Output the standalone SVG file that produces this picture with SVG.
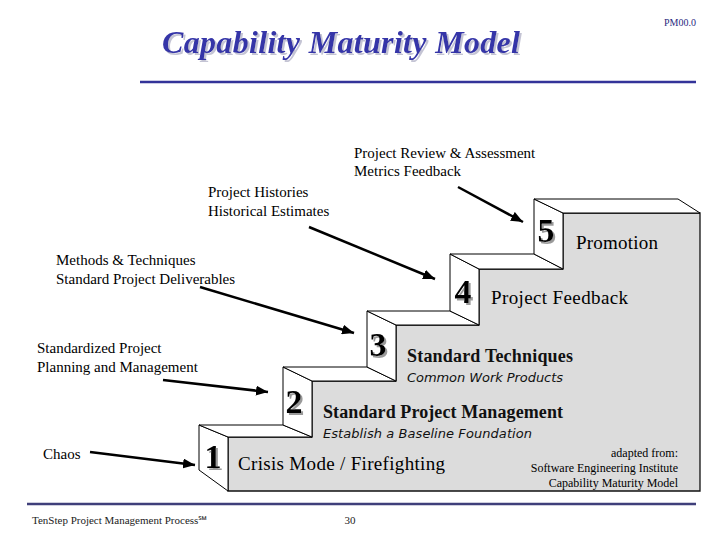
<svg xmlns="http://www.w3.org/2000/svg" width="720" height="540" viewBox="0 0 720 540">
<style>
.lbl{font-family:"Liberation Serif","Times New Roman",serif;font-size:15px;fill:#000}
.big{font-family:"Liberation Serif","Times New Roman",serif;font-size:19px;fill:#000}
.bigb{font-family:"Liberation Serif","Times New Roman",serif;font-size:18px;font-weight:bold;fill:#111}
.sub{font-family:"DejaVu Sans","Verdana",sans-serif;font-size:13px;font-style:italic;fill:#111}
.src{font-family:"Liberation Serif","Times New Roman",serif;font-size:12px;fill:#000;text-anchor:end}
.num{font-family:"Liberation Serif","Times New Roman",serif;font-size:34px;font-weight:bold;text-anchor:middle;fill:#000;filter:url(#numsh)}
.face{fill:#fff;stroke:#000;stroke-width:1;stroke-linejoin:round}
.front{fill:#dcdcdc;stroke:#111;stroke-width:1.3;stroke-linejoin:miter}
.arrow{fill:none;stroke:#000;stroke-width:2.5;marker-end:url(#ah)}
.foot{font-family:"Liberation Serif","Times New Roman",serif;font-size:11px;fill:#222}
.title{font-family:"Liberation Serif","Times New Roman",serif;font-size:32px;font-weight:bold;font-style:italic;fill:#3535a8;filter:url(#titlesh)}
</style>
<defs>
<marker id="ah" markerUnits="userSpaceOnUse" markerWidth="14" markerHeight="10" refX="12" refY="5" orient="auto">
<path d="M0,0 L12,5 L0,10 Z" fill="#000"/>
</marker>
<filter id="numsh" x="-30%" y="-30%" width="170%" height="170%">
<feOffset in="SourceAlpha" dx="2" dy="2" result="o"/>
<feFlood flood-color="#9a9a9a"/>
<feComposite in2="o" operator="in" result="s"/>
<feMerge><feMergeNode in="s"/><feMergeNode in="SourceGraphic"/></feMerge>
</filter>
<filter id="titlesh" x="-5%" y="-20%" width="115%" height="150%">
<feOffset in="SourceAlpha" dx="2" dy="2" result="o"/>
<feFlood flood-color="#c4c4d4"/>
<feComposite in2="o" operator="in" result="s"/>
<feMerge><feMergeNode in="s"/><feMergeNode in="SourceGraphic"/></feMerge>
</filter>
</defs>
<rect width="720" height="540" fill="#fff"/>

<g id="header">
<text class="title" x="162" y="53" textLength="358">Capability Maturity Model</text>
<text x="696" y="26" font-family="Liberation Serif,'Times New Roman',serif" font-size="10" fill="#2a2a80" text-anchor="end">PM00.0</text>
<line x1="140" y1="82" x2="696" y2="82" stroke="#333399" stroke-width="2.5"/>
</g>

<g id="stairs">
<polygon class="front" points="228,491 228,437 312,437 312,381 396,381 396,325 479,325 479,269 563,269 563,213 700,213 700,491"/>
<g id="step1">
<polygon class="face" points="199,425 228,437 228,491 199,470"/>
<polygon class="face" points="199,425 283,425 312,437 228,437"/>
<text class="num" x="213" y="468">1</text>
</g>
<g id="step2">
<polygon class="face" points="283,367 312,381 312,437 283,425"/>
<polygon class="face" points="283,367 367,367 396,381 312,381"/>
<text class="num" x="294" y="413">2</text>
</g>
<g id="step3">
<polygon class="face" points="367,311 396,325 396,381 367,367"/>
<polygon class="face" points="367,311 450,311 479,325 396,325"/>
<text class="num" x="378" y="356">3</text>
</g>
<g id="step4">
<polygon class="face" points="450,254 479,269 479,325 450,311"/>
<polygon class="face" points="450,254 534,254 563,269 479,269"/>
<text class="num" x="463" y="303">4</text>
</g>
<g id="step5">
<polygon class="face" points="534,199 563,213 563,269 534,254"/>
<polygon class="face" points="534,199 678,199 700,213 563,213"/>
<text class="num" x="546" y="242">5</text>
</g>
</g>

<g id="level-labels">
<text class="big" x="576" y="249" textLength="82">Promotion</text>
<text class="big" x="491" y="304" textLength="137">Project Feedback</text>
<text class="bigb" x="407" y="362" textLength="166">Standard Techniques</text>
<text class="sub" x="407" y="382" textLength="156">Common Work Products</text>
<text class="bigb" x="323" y="418" textLength="240">Standard Project Management</text>
<text class="sub" x="323" y="438" textLength="209">Establish a Baseline Foundation</text>
<text class="big" x="238" y="470" textLength="207">Crisis Mode / Firefighting</text>
<text class="src" x="678" y="457">adapted from:</text>
<text class="src" x="678" y="472">Software Engineering Institute</text>
<text class="src" x="678" y="487">Capability Maturity Model</text>
</g>

<g id="side-labels">
<text class="lbl" x="354" y="158">Project Review &amp; Assessment</text>
<text class="lbl" x="354" y="176">Metrics Feedback</text>
<text class="lbl" x="208" y="197">Project Histories</text>
<text class="lbl" x="208" y="216">Historical Estimates</text>
<text class="lbl" x="56" y="265">Methods &amp; Techniques</text>
<text class="lbl" x="56" y="284">Standard Project Deliverables</text>
<text class="lbl" x="37" y="353">Standardized Project</text>
<text class="lbl" x="37" y="372">Planning and Management</text>
<text class="lbl" x="43" y="459">Chaos</text>
</g>

<g id="connectors">
<path class="arrow" d="M458,187 L523,222"/>
<path class="arrow" d="M309,227 L435,279"/>
<path class="arrow" d="M200,287 L354,333"/>
<path class="arrow" d="M163,380 L268,392"/>
<path class="arrow" d="M90,452 L195,465"/>
</g>

<g id="footer">
<line x1="27" y1="504" x2="696" y2="504" stroke="#3f3f7a" stroke-width="2.5"/>
<text class="foot" x="32" y="524">TenStep Project Management Process℠</text>
<text class="foot" x="350" y="524" text-anchor="middle">30</text>
</g>
</svg>
